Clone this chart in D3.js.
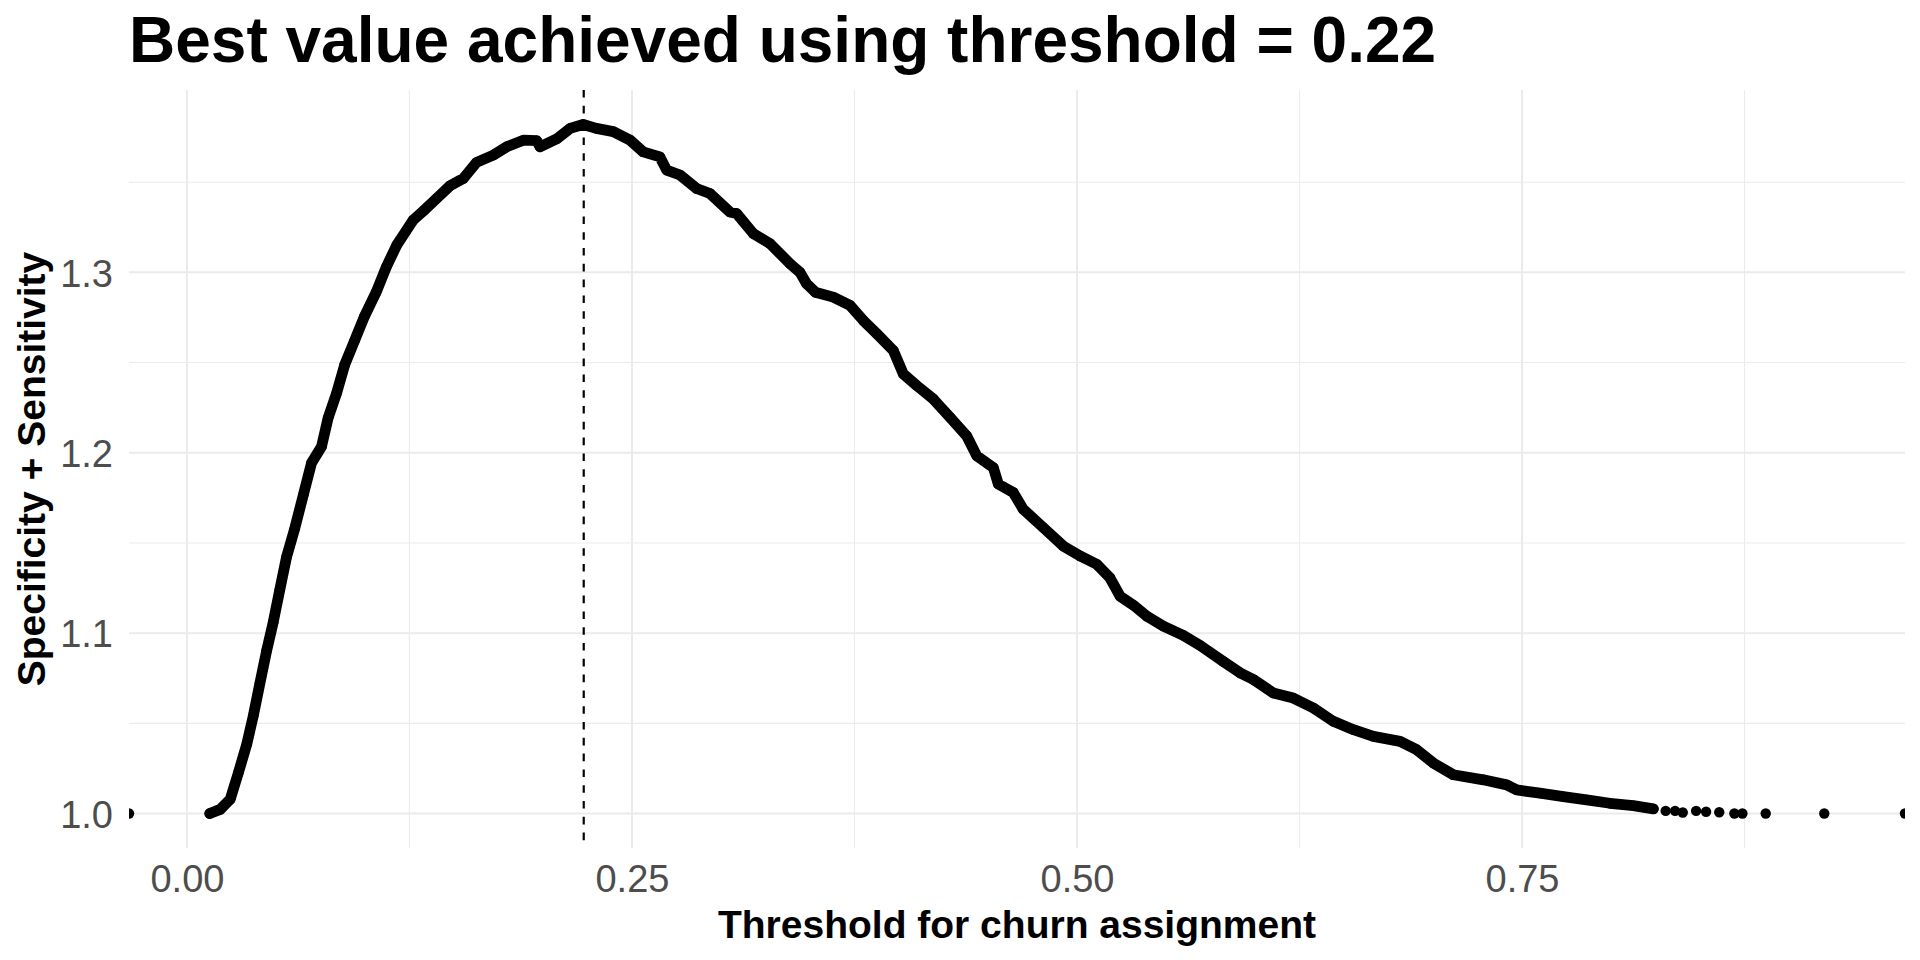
<!DOCTYPE html>
<html>
<head>
<meta charset="utf-8">
<script src="https://cdn.jsdelivr.net/npm/d3@7"></script>
<style>
  body { margin: 0; background: #fff; }
  text { font-family: "Liberation Sans", Arial, sans-serif; }
</style>
</head>
<body>
<svg id="chart" width="1920" height="960"></svg>
<script>
// dense part of the curve
var denseThreshold = [0.0128, 0.0187, 0.0243, 0.0289, 0.0336, 0.0373, 0.0410, 0.0448, 0.0485, 0.0522,
  0.0560, 0.0606, 0.0653, 0.0700, 0.0756, 0.0793, 0.0840, 0.0886, 0.0942, 0.0998,
  0.1063, 0.1120, 0.1178, 0.1231, 0.1271, 0.1328, 0.1403, 0.1478, 0.1552, 0.1627,
  0.1721, 0.1796, 0.1890, 0.1965, 0.1983, 0.2077, 0.2152, 0.2226, 0.2300, 0.2395,
  0.2489, 0.2563, 0.2657, 0.2695, 0.2770, 0.2863, 0.2938, 0.3050, 0.3088, 0.3182,
  0.3275, 0.3388, 0.3444, 0.3481, 0.3530, 0.3631, 0.3725, 0.3800, 0.3875, 0.3968,
  0.4024, 0.4100, 0.4193, 0.4287, 0.4380, 0.4437, 0.4530, 0.4558, 0.4642, 0.4698,
  0.4811, 0.4923, 0.5017, 0.5111, 0.5185, 0.5242, 0.5317, 0.5392, 0.5485, 0.5597,
  0.5691, 0.5820, 0.5916, 0.5991, 0.6103, 0.6215, 0.6328, 0.6440, 0.6553, 0.6665,
  0.6815, 0.6908, 0.7002, 0.7114, 0.7283, 0.7414, 0.7470, 0.7601, 0.7732, 0.7863,
  0.7994, 0.8125, 0.8238]
var denseValue = [1.0000, 1.0023, 1.0079, 1.0226, 1.0384, 1.0543, 1.0723, 1.0904, 1.1062, 1.1243,
  1.1424, 1.1582, 1.1763, 1.1944, 1.2034, 1.2193, 1.2328, 1.2487, 1.2622, 1.2758,
  1.2890, 1.3030, 1.3150, 1.3230, 1.3290, 1.3340, 1.3410, 1.3480, 1.3520, 1.3610,
  1.3650, 1.3696, 1.3733, 1.3730, 1.3696, 1.3740, 1.3798, 1.3820, 1.3798, 1.3780,
  1.3733, 1.3668, 1.3640, 1.3567, 1.3540, 1.3465, 1.3437, 1.3335, 1.3326, 1.3215,
  1.3160, 1.3048, 1.3000, 1.2937, 1.2890, 1.2863, 1.2817, 1.2733, 1.2660, 1.2567,
  1.2437, 1.2372, 1.2298, 1.2196, 1.2094, 1.1983, 1.1918, 1.1826, 1.1780, 1.1687,
  1.1585, 1.1483, 1.1428, 1.1382, 1.1307, 1.1205, 1.1155, 1.1094, 1.1039, 1.0988,
  1.0932, 1.0844, 1.0780, 1.0743, 1.0668, 1.0640, 1.0585, 1.0511, 1.0465, 1.0428,
  1.0400, 1.0354, 1.0280, 1.0215, 1.0187, 1.0159, 1.0131, 1.0113, 1.0094, 1.0076,
  1.0057, 1.0044, 1.0026]

// isolated points at the ends (-Inf / Inf thresholds sit on the panel border)
var sparseThreshold = [-Infinity, 0.8307, 0.8360, 0.8403, 0.8478, 0.8534, 0.8608, 0.8693, 0.8738, 0.8869, 0.9198, Infinity]
var sparseValue = [1.0000, 1.0015, 1.0015, 1.0006, 1.0015, 1.0010, 1.0007, 1.0000, 1.0000, 1.0000, 1.0000, 1.0000]

var bestThreshold = 0.2229

var xBreaks = [0, 0.25, 0.5, 0.75]
var xMinor = [0.125, 0.375, 0.625, 0.875]
var yBreaks = [1.0, 1.1, 1.2, 1.3]
var yMinor = [1.05, 1.15, 1.25, 1.35]

var width = 1920, height = 960
var panel = {left: 129, right: 1905, top: 90, bottom: 848}

var svg = d3.select("#chart")

var dense = denseThreshold.map(function(t, i){ return {t: t, v: denseValue[i]} })
var sparse = sparseThreshold.map(function(t, i){ return {t: t, v: sparseValue[i]} })
var finite = dense.concat(sparse).filter(function(d){ return isFinite(d.t) })

var expand = function(ext){
  var r = ext[1] - ext[0]
  return [ext[0] - r*0.05, ext[1] + r*0.05]
}

var x = d3.scaleLinear()
  .domain(expand(d3.extent(finite, function(d){ return d.t })))
  .range([panel.left, panel.right])
var y = d3.scaleLinear()
  .domain(expand(d3.extent(finite, function(d){ return d.v })))
  .range([panel.bottom, panel.top])

var px = function(t){
  if(t === -Infinity) return panel.left
  if(t === Infinity) return panel.right
  return x(t)
}

svg.append("rect").attr("width", width).attr("height", height).attr("fill", "#fff")

svg.append("clipPath").attr("id", "clip")
  .append("rect")
    .attr("x", panel.left).attr("y", panel.top)
    .attr("width", panel.right - panel.left).attr("height", panel.bottom - panel.top)

var grid = svg.append("g")
grid.selectAll(".xminor").data(xMinor).enter().append("line")
  .attr("x1", x).attr("x2", x).attr("y1", panel.top).attr("y2", panel.bottom)
  .attr("stroke", "#ebebeb").attr("stroke-width", 1.1)
grid.selectAll(".yminor").data(yMinor).enter().append("line")
  .attr("y1", y).attr("y2", y).attr("x1", panel.left).attr("x2", panel.right)
  .attr("stroke", "#ebebeb").attr("stroke-width", 1.1)
grid.selectAll(".xmajor").data(xBreaks).enter().append("line")
  .attr("x1", x).attr("x2", x).attr("y1", panel.top).attr("y2", panel.bottom)
  .attr("stroke", "#ebebeb").attr("stroke-width", 2)
grid.selectAll(".ymajor").data(yBreaks).enter().append("line")
  .attr("y1", y).attr("y2", y).attr("x1", panel.left).attr("x2", panel.right)
  .attr("stroke", "#ebebeb").attr("stroke-width", 2)

var plot = svg.append("g").attr("clip-path", "url(#clip)")

// dense points overlap into a thick band
plot.append("path")
  .datum(dense)
  .attr("fill", "none")
  .attr("stroke", "#000")
  .attr("stroke-width", 10.8)
  .attr("stroke-linejoin", "round")
  .attr("stroke-linecap", "round")
  .attr("d", d3.line().x(function(d){ return px(d.t) }).y(function(d){ return y(d.v) }))

plot.selectAll(".pt")
    .data(dense.concat(sparse))
  .enter().append("circle")
    .attr("cx", function(d){ return px(d.t) })
    .attr("cy", function(d){ return y(d.v) })
    .attr("r", 5.2)
    .attr("fill", "#000")

plot.append("line")
  .attr("x1", x(bestThreshold)).attr("x2", x(bestThreshold))
  .attr("y1", panel.top).attr("y2", panel.bottom)
  .attr("stroke", "#000").attr("stroke-width", 2.2)
  .attr("stroke-dasharray", "7.6,8.2")

// axes: ggplot minimal has no axis lines or ticks, only labels
var xAxis = svg.append("g").attr("transform", "translate(0," + panel.bottom + ")")
  .call(d3.axisBottom(x).tickValues(xBreaks).tickFormat(d3.format(".2f")).tickSize(0).tickPadding(44))
xAxis.select(".domain").remove()
xAxis.selectAll("text").attr("font-size", 38).attr("fill", "#4d4d4d")
  .attr("dy", 0).attr("font-family", "Liberation Sans, Arial, sans-serif")

var yAxis = svg.append("g").attr("transform", "translate(" + panel.left + ",0)")
  .call(d3.axisLeft(y).tickValues(yBreaks).tickFormat(d3.format(".1f")).tickSize(0).tickPadding(16))
yAxis.select(".domain").remove()
yAxis.selectAll("text").attr("font-size", 38).attr("fill", "#4d4d4d")
  .attr("dy", "0.36em").attr("font-family", "Liberation Sans, Arial, sans-serif")

svg.append("text")
  .attr("x", panel.left).attr("y", 62)
  .attr("font-size", 64).attr("font-weight", "bold").attr("fill", "#000")
  .text("Best value achieved using threshold = " + d3.format(".2f")(bestThreshold))

svg.append("text")
  .attr("x", (panel.left + panel.right)/2).attr("y", 938)
  .attr("text-anchor", "middle")
  .attr("font-size", 39).attr("font-weight", "bold").attr("fill", "#000")
  .text("Threshold for churn assignment")

svg.append("text")
  .attr("transform", "translate(45," + (panel.top + panel.bottom)/2 + ") rotate(-90)")
  .attr("text-anchor", "middle")
  .attr("font-size", 39).attr("font-weight", "bold").attr("fill", "#000")
  .text("Specificity + Sensitivity")
</script>
</body>
</html>
